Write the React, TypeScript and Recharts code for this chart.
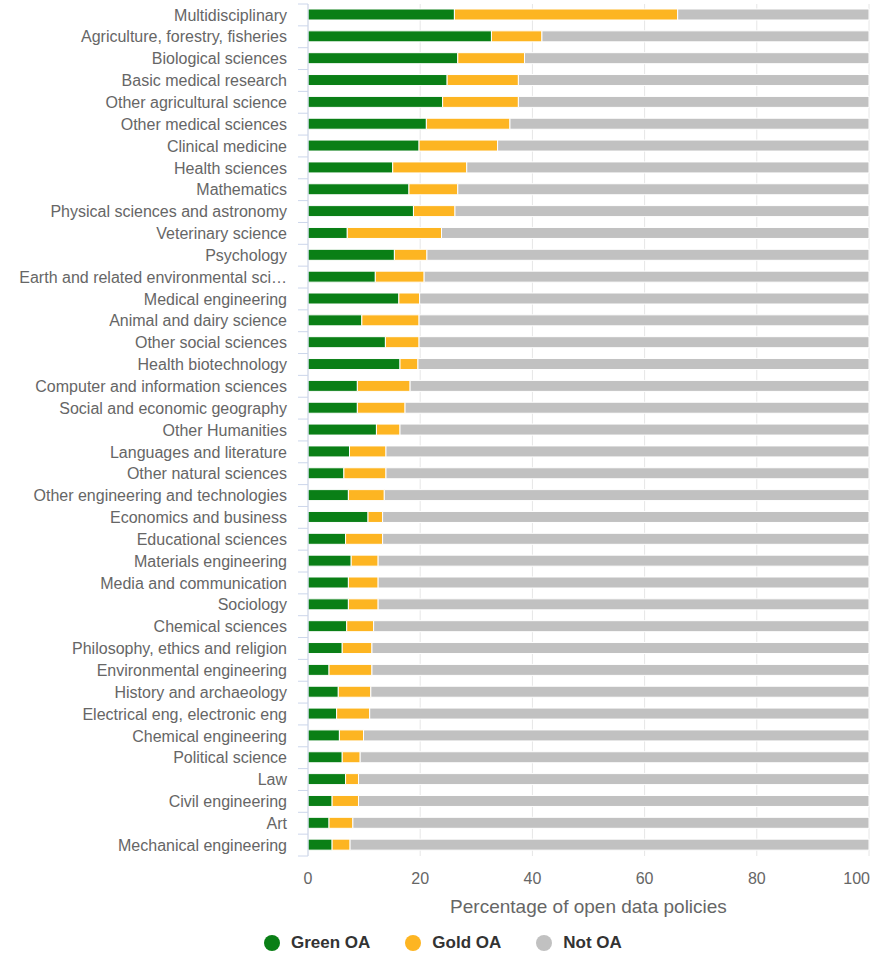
import { BarChart, Bar, XAxis, YAxis, CartesianGrid, Legend } from "recharts";

const categories = [
  "Multidisciplinary",
  "Agriculture, forestry, fisheries",
  "Biological sciences",
  "Basic medical research",
  "Other agricultural science",
  "Other medical sciences",
  "Clinical medicine",
  "Health sciences",
  "Mathematics",
  "Physical sciences and astronomy",
  "Veterinary science",
  "Psychology",
  "Earth and related environmental sciences",
  "Medical engineering",
  "Animal and dairy science",
  "Other social sciences",
  "Health biotechnology",
  "Computer and information sciences",
  "Social and economic geography",
  "Other Humanities",
  "Languages and literature",
  "Other natural sciences",
  "Other engineering and technologies",
  "Economics and business",
  "Educational sciences",
  "Materials engineering",
  "Media and communication",
  "Sociology",
  "Chemical sciences",
  "Philosophy, ethics and religion",
  "Environmental engineering",
  "History and archaeology",
  "Electrical eng, electronic eng",
  "Chemical engineering",
  "Political science",
  "Law",
  "Civil engineering",
  "Art",
  "Mechanical engineering",
];

const greenOA = [
  26.1, 32.7, 26.7, 24.8, 24.0, 21.1, 19.8, 15.1, 18.0, 18.8, 7.0, 15.4, 12.0,
  16.2, 9.6, 13.8, 16.4, 8.8, 8.8, 12.2, 7.4, 6.4, 7.2, 10.7, 6.7, 7.7, 7.2,
  7.2, 6.9, 6.1, 3.75, 5.4, 5.1, 5.6, 6.1, 6.7, 4.3, 3.75, 4.3,
];

const goldOA = [
  39.8, 9.0, 11.9, 12.7, 13.5, 14.9, 14.0, 13.2, 8.7, 7.4, 16.8, 5.8, 8.7, 3.7,
  10.2, 6.0, 3.2, 9.4, 8.5, 4.2, 6.5, 7.5, 6.4, 2.6, 6.6, 4.8, 5.3, 5.3, 4.8,
  5.3, 7.65, 5.8, 5.9, 4.3, 3.2, 2.3, 4.7, 4.25, 3.2,
];

const notOA = [
  34.1, 58.3, 61.4, 62.5, 62.5, 64.0, 66.2, 71.7, 73.3, 73.8, 76.2, 78.8, 79.3,
  80.1, 80.2, 80.2, 80.4, 81.8, 82.7, 83.6, 86.1, 86.1, 86.4, 86.7, 86.7, 87.5,
  87.5, 87.5, 88.3, 88.6, 88.6, 88.8, 89.0, 90.1, 90.7, 91.0, 91.0, 92.0, 92.5,
];

const xTicks = [0, 20, 40, 60, 80, 100];

const series = [
  { key: "green", name: "Green OA", color: "#0a7f16" },
  { key: "gold", name: "Gold OA", color: "#fdb522" },
  { key: "notOA", name: "Not OA", color: "#c1c1c1" },
];

const data = categories.map((name, i) => ({
  name,
  green: greenOA[i],
  gold: goldOA[i],
  notOA: notOA[i],
}));

const FONT = '"Liberation Sans", Arial, Helvetica, sans-serif';
const W = 872;
const H = 962;
const MARGIN = { top: 4, right: 3, bottom: 0, left: 0 };
const LEGEND_H = 46;
const XAXIS_H = 60;
const PLOT_H = H - MARGIN.top - MARGIN.bottom - LEGEND_H - XAXIS_H;
const BAND = PLOT_H / categories.length;

const CategoryTick = (props: any) => {
  const { x, y, payload, index } = props;
  const raw: string = payload.value;
  const label = raw.length > 36 ? raw.slice(0, 35) + "…" : raw;
  const axisX = x + 21;
  return (
    <g>
      <line x1={axisX - 10} x2={axisX} y1={y - BAND / 2} y2={y - BAND / 2} stroke="#ccd6eb" />
      {index === categories.length - 1 && (
        <line x1={axisX - 10} x2={axisX} y1={y + BAND / 2} y2={y + BAND / 2} stroke="#ccd6eb" />
      )}
      <text x={x} y={y} dy="0.355em" textAnchor="end" fill="#666666" fontSize={16} fontFamily={FONT}>
        {label}
      </text>
    </g>
  );
};

const ValueTick = (props: any) => {
  const { x, y, payload, index } = props;
  const last = index === xTicks.length - 1;
  return (
    <text
      x={last ? x + 1 : x}
      y={y + 28}
      textAnchor={last ? "end" : "middle"}
      fill="#666666"
      fontSize={16}
      fontFamily={FONT}
    >
      {payload.value}
    </text>
  );
};

const LegendContent = () => (
  <div
    style={{
      height: LEGEND_H,
      display: "flex",
      alignItems: "flex-start",
      paddingLeft: 264,
      paddingTop: 19,
      boxSizing: "border-box",
      fontFamily: FONT,
    }}
  >
    {series.map((s) => (
      <div key={s.key} style={{ display: "flex", alignItems: "center", marginRight: 35, height: 16 }}>
        <span
          style={{ width: 16, height: 16, borderRadius: 8, background: s.color, marginRight: 11, display: "inline-block" }}
        />
        <span style={{ fontSize: 17, fontWeight: "bold", color: "#333333", lineHeight: "16px" }}>{s.name}</span>
      </div>
    ))}
  </div>
);

export default function App() {
  return (
    <div style={{ position: "absolute", left: 0, top: 0, width: W, height: H, background: "#fff" }}>
      <BarChart width={W} height={H} data={data} layout="vertical" margin={MARGIN} barSize={11}>
        <CartesianGrid horizontal={false} stroke="#e6e6e6" />
        <XAxis
          type="number"
          domain={[0, 100]}
          ticks={xTicks}
          axisLine={false}
          tickLine={false}
          tickSize={0}
          tickMargin={0}
          height={XAXIS_H}
          tick={<ValueTick />}
          interval={0}
          label={{
            value: "Percentage of open data policies",
            position: "insideBottom",
            offset: 3,
            fill: "#666666",
            fontSize: 19,
            fontFamily: FONT,
          }}
        />
        <YAxis
          type="category"
          dataKey="name"
          width={308}
          axisLine={{ stroke: "#ccd6eb" }}
          tickLine={false}
          tickSize={10}
          tickMargin={11}
          interval={0}
          tick={<CategoryTick />}
        />
        <Legend verticalAlign="bottom" height={LEGEND_H} content={<LegendContent />} />
        {series.map((s) => (
          <Bar
            key={s.key}
            dataKey={s.key}
            name={s.name}
            stackId="a"
            fill={s.color}
            stroke="#ffffff"
            strokeWidth={1}
            isAnimationActive={false}
          />
        ))}
      </BarChart>
    </div>
  );
}
